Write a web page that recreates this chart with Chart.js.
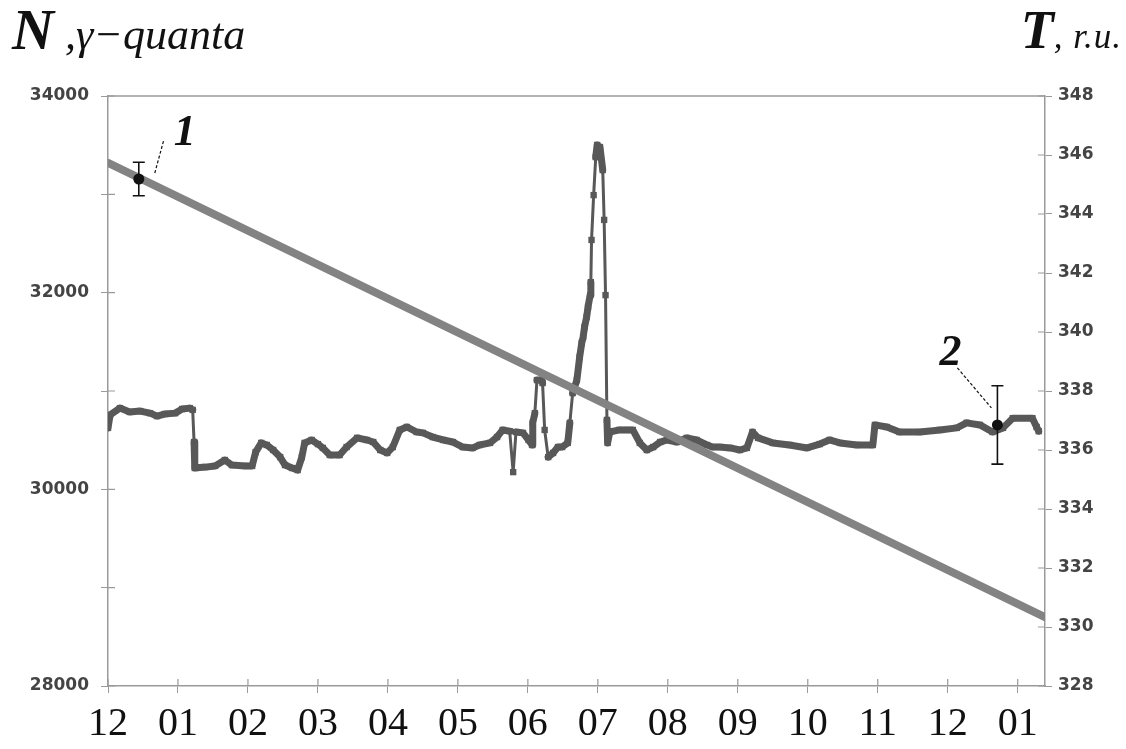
<!DOCTYPE html>
<html>
<head>
<meta charset="utf-8">
<script src="https://cdn.jsdelivr.net/npm/chart.js@4/dist/chart.umd.min.js"></script>
<style>
  html, body { margin: 0; padding: 0; background: #fff; }
  #wrap { position: relative; width: 1126px; height: 749px; overflow: hidden; }
  #c { position: absolute; left: 0; top: 0; }
  .ttl { position: absolute; font-family: 'Liberation Serif', 'Times New Roman', serif; color: #111; white-space: nowrap; }
  .ann { position: absolute; font-family: 'Liberation Serif', serif; font-weight: bold; font-style: italic; font-size: 44px; line-height: 44px; color: #111; transform: translate(-50%, -50%); }
</style>
</head>
<body>
<div id="wrap">
  <canvas id="c" width="1126" height="749"></canvas>
  <div class="ttl" id="titleLeft" style="left:12px; top:2px; font-size:58px; line-height:56px;"><span style="font-weight:bold; font-style:italic;">N</span><span style="font-style:italic; font-size:44px;"> ,γ−quanta</span></div>
  <div class="ttl" id="titleRight" style="right:4px; top:4px; font-size:54px; line-height:52px;"><span style="font-weight:bold; font-style:italic;">T</span><span style="font-style:italic; font-size:35px; letter-spacing:1px;">, r.u.</span></div>
  <div class="ann" id="ann0">1</div>
  <div class="ann" id="ann1">2</div>
</div>
<script>
// ---------------- DATA ----------------
const monthLabels = ["12","01","02","03","04","05","06","07","08","09","10","11","12","01"];

// N, gamma-quanta (left axis) — steady decline
const nMonths = [0, 13.39];
const nValues = [33320, 28700];

// T, r.u. (right axis)
const tMonths = [0.00,0.03,0.17,0.31,0.46,0.60,0.70,0.81,0.96,1.06,1.17,1.21,1.23,1.24,1.39,1.53,1.67,1.77,1.96,2.06,
  2.11,2.19,2.27,2.36,2.46,2.53,2.63,2.71,2.77,2.81,2.91,3.00,3.07,3.17,3.31,3.41,3.56,3.70,3.79,3.89,
  3.99,4.07,4.17,4.27,4.41,4.50,4.64,4.79,4.93,5.07,5.21,5.31,5.46,5.56,5.64,5.74,5.79,5.83,5.93,6.01,
  6.06,6.07,6.10,6.13,6.20,6.21,6.24,6.29,6.36,6.43,6.49,6.57,6.60,6.64,6.70,6.74,6.77,6.79,6.81,6.84,
  6.86,6.89,6.90,6.91,6.94,6.97,6.99,7.03,7.07,7.09,7.11,7.13,7.14,7.17,7.31,7.41,7.50,7.60,7.70,7.79,
  7.89,7.99,8.13,8.27,8.41,8.56,8.64,8.74,8.89,9.03,9.13,9.21,9.29,9.50,9.74,9.99,10.17,10.31,10.46,10.70,
  10.93,10.96,11.13,11.31,11.60,11.89,12.13,12.27,12.46,12.64,12.79,12.93,13.21,13.27,13.30];
const tValues = [336.75,337.19,337.42,337.29,337.32,337.25,337.15,337.22,337.25,337.39,337.42,337.36,336.27,335.39,335.42,335.46,335.66,335.49,335.46,335.46,
  335.93,336.24,336.17,336.00,335.76,335.49,335.39,335.32,335.76,336.24,336.34,336.20,336.07,335.83,335.83,336.10,336.41,336.34,336.27,336.00,
  335.90,336.10,336.68,336.78,336.61,336.58,336.44,336.34,336.27,336.10,336.07,336.17,336.24,336.44,336.68,336.64,335.25,336.61,336.58,336.34,
  336.17,336.92,337.25,338.37,338.37,338.27,336.68,335.76,335.90,336.10,336.10,336.24,336.92,337.93,338.37,339.15,339.63,339.83,340.17,340.51,
  340.85,341.25,341.69,343.12,344.64,345.93,346.34,346.27,345.49,343.80,341.25,337.02,336.24,336.61,336.68,336.68,336.68,336.24,336.00,336.10,
  336.27,336.34,336.27,336.41,336.34,336.17,336.10,336.10,336.07,336.00,336.07,336.61,336.41,336.24,336.17,336.07,336.20,336.34,336.24,336.17,
  336.17,336.85,336.78,336.61,336.61,336.68,336.75,336.92,336.85,336.61,336.75,337.08,337.08,336.78,336.64];

// error-bar points (1: on N, left axis; 2: on T, right axis)
const errorMonths = [0.44, 12.71];
const errorValues = [33156, 336.85];
const errorHalf   = [170, 1.33];
const errorAxes   = ["y", "y1"];
const errorLabels = ["1", "2"];

// ---------------- STYLE (not data) ----------------
const X_MAX = 13.39;
const AXIS_GREY = "#9a9a9a";
// label/leader offsets in px relative to error point
const leaderOffsets = [[[16,-6],[25,-39]], [[-40,-57],[-6,-17]]];
const labelOffsets = [[46,-48], [-47,-74]];

const nPoints = nMonths.map((m,i)=>({x:m, y:nValues[i]}));
const tPoints = tMonths.map((m,i)=>({x:m, y:tValues[i]}));

const decor = {
  id: 'decor',
  afterDatasetsDraw(chart) {
    const ctx = chart.ctx, a = chart.chartArea, xs = chart.scales.x;
    ctx.save();
    ctx.strokeStyle = AXIS_GREY; ctx.lineWidth = 1.5;
    ctx.beginPath(); ctx.moveTo(a.left, a.top); ctx.lineTo(a.right, a.top); ctx.stroke();
    ctx.lineWidth = 1.2;
    ctx.beginPath();
    chart.scales.y.ticks.forEach(t => { const py = chart.scales.y.getPixelForValue(t.value); ctx.moveTo(a.left, py); ctx.lineTo(a.left+7, py); });
    chart.scales.y1.ticks.forEach(t => { const py = chart.scales.y1.getPixelForValue(t.value); ctx.moveTo(a.right, py); ctx.lineTo(a.right-7, py); });
    xs.ticks.forEach(t => { const px = xs.getPixelForValue(t.value); ctx.moveTo(px, a.bottom); ctx.lineTo(px, a.bottom-7); });
    ctx.stroke();
    ctx.strokeStyle = "#111"; ctx.lineWidth = 1.6;
    errorMonths.forEach((m, i) => {
      const ys = chart.scales[errorAxes[i]];
      const px = xs.getPixelForValue(m);
      const py = ys.getPixelForValue(errorValues[i]);
      const top = ys.getPixelForValue(errorValues[i] + errorHalf[i]);
      const bot = ys.getPixelForValue(errorValues[i] - errorHalf[i]);
      ctx.setLineDash([]);
      ctx.beginPath();
      ctx.moveTo(px, top); ctx.lineTo(px, bot);
      ctx.moveTo(px-6, top); ctx.lineTo(px+6, top);
      ctx.moveTo(px-6, bot); ctx.lineTo(px+6, bot);
      ctx.stroke();
      ctx.beginPath(); ctx.fillStyle = "#111"; ctx.arc(px, py, 5.5, 0, Math.PI*2); ctx.fill();
      const lo = leaderOffsets[i];
      ctx.setLineDash([3,2]); ctx.lineWidth = 1.2;
      ctx.beginPath(); ctx.moveTo(px+lo[0][0], py+lo[0][1]); ctx.lineTo(px+lo[1][0], py+lo[1][1]); ctx.stroke();
      ctx.lineWidth = 1.6;
      const el = document.getElementById('ann'+i);
      el.textContent = errorLabels[i];
      el.style.left = (px + labelOffsets[i][0]) + 'px';
      el.style.top = (py + labelOffsets[i][1]) + 'px';
    });
    ctx.restore();
  }
};

new Chart(document.getElementById('c'), {
  type: 'scatter',
  data: {
    datasets: [
      {
        label: 'N', data: nPoints, yAxisID: 'y', showLine: true, order: 1,
        borderColor: '#838383', backgroundColor: '#838383', borderWidth: 8,
        pointRadius: 0, borderCapStyle: 'round'
      },
      {
        label: 'T', data: tPoints, yAxisID: 'y1', showLine: true, order: 2,
        borderColor: '#585858', backgroundColor: '#585858',
        borderWidth: 7, borderJoinStyle: 'round', borderCapStyle: 'round',
        pointStyle: 'rect', pointRadius: 4.5, pointBorderWidth: 0,
        segment: { borderWidth: c => Math.abs(c.p1.parsed.y - c.p0.parsed.y) > 0.9 ? 3 : 7 }
      }
    ]
  },
  options: {
    responsive: false, animation: false, devicePixelRatio: 1,
    layout: { padding: { top: 96, left: 0, right: 0, bottom: 0 } },
    plugins: { legend: { display: false }, tooltip: { enabled: false } },
    scales: {
      x: {
        type: 'linear', min: 0, max: X_MAX,
        afterBuildTicks: s => { s.ticks = monthLabels.map((_, i) => ({ value: i })); },
        afterFit: s => { s.height = 63; },
        border: { color: AXIS_GREY, width: 1.5 },
        grid: { drawOnChartArea: false, color: AXIS_GREY, tickLength: 7 },
        ticks: {
          autoSkip: false, maxRotation: 0, minRotation: 0, padding: 7, color: '#111',
          font: { family: 'Liberation Serif', size: 40 },
          callback: v => monthLabels[v]
        }
      },
      y: {
        position: 'left', min: 28000, max: 34000,
        afterFit: s => { s.width = 108; },
        border: { color: AXIS_GREY, width: 1.5 },
        grid: { drawOnChartArea: false, color: AXIS_GREY, tickLength: 7 },
        ticks: {
          stepSize: 1000, padding: 12, color: '#444',
          font: { family: 'DejaVu Sans', size: 17, weight: 'bold' },
          callback: v => (v % 2000 === 0 ? String(v) : '')
        }
      },
      y1: {
        position: 'right', min: 328, max: 348,
        afterFit: s => { s.width = 81; },
        border: { color: AXIS_GREY, width: 1.5 },
        grid: { drawOnChartArea: false, color: AXIS_GREY, tickLength: 7 },
        ticks: {
          stepSize: 2, padding: 6, color: '#444',
          font: { family: 'DejaVu Sans', size: 17, weight: 'bold' }
        }
      }
    }
  },
  plugins: [decor]
});
</script>
</body>
</html>
